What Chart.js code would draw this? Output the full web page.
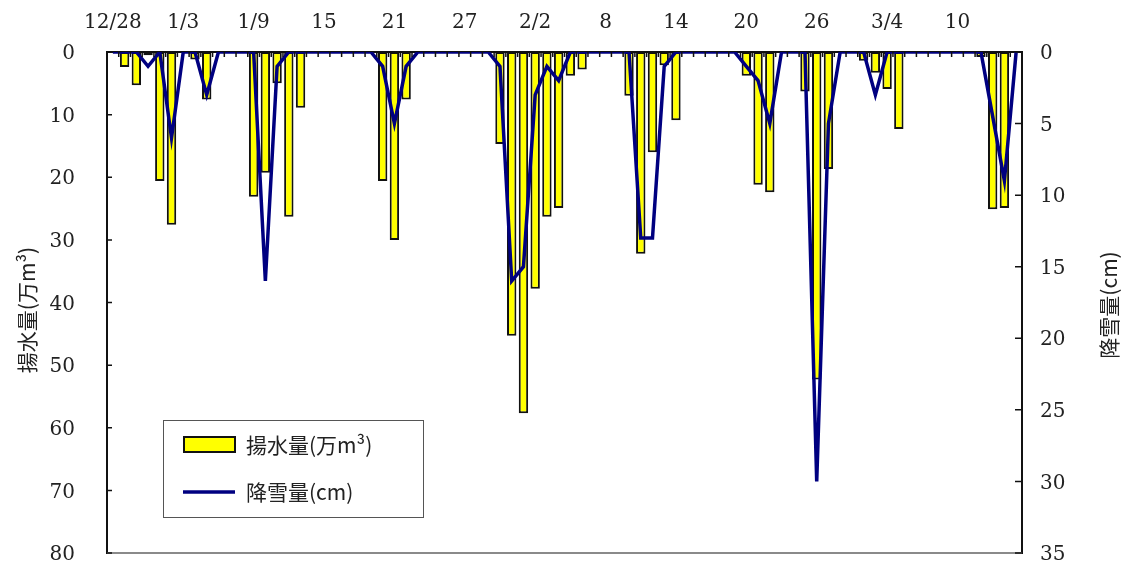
<!DOCTYPE html>
<html>
<head>
<meta charset="utf-8">
<script src="https://cdn.jsdelivr.net/npm/chart.js@4.4.1/dist/chart.umd.min.js"></script>
<style>
  html, body { margin: 0; padding: 0; background: #fff; }
  #wrap { width: 1121px; height: 564px; position: relative; }
</style>
</head>
<body>
<div id="wrap"><canvas id="myChart" width="1121" height="564"></canvas></div>
<script>
// days from 12/28 to 3/15
const days = [
  '12/28','12/29','12/30','12/31','1/1','1/2','1/3','1/4','1/5','1/6','1/7','1/8',
  '1/9','1/10','1/11','1/12','1/13','1/14','1/15','1/16','1/17','1/18','1/19','1/20',
  '1/21','1/22','1/23','1/24','1/25','1/26','1/27','1/28','1/29','1/30','1/31','2/1',
  '2/2','2/3','2/4','2/5','2/6','2/7','2/8','2/9','2/10','2/11','2/12','2/13',
  '2/14','2/15','2/16','2/17','2/18','2/19','2/20','2/21','2/22','2/23','2/24','2/25',
  '2/26','2/27','2/28','3/1','3/2','3/3','3/4','3/5','3/6','3/7','3/8','3/9',
  '3/10','3/11','3/12','3/13','3/14','3/15'
];
// every 6th day gets a label
const tickLabels = ['12/28','1/3','1/9','15','21','27','2/2','8','14','20','26','3/4','10'];

// 揚水量 (万m3)
const pumping = [
  0, 2.4, 5.3, 0.5, 20.6, 27.6, 0, 1.2, 7.6, 0, 0, 0,
  23.1, 19.3, 5.0, 26.3, 8.9, 0, 0, 0, 0, 0, 0, 20.6,
  30.0, 7.6, 0, 0, 0, 0, 0, 0, 0, 14.7, 45.3, 57.7,
  37.8, 26.3, 24.9, 3.8, 2.8, 0, 0, 0, 7.0, 32.2, 16.0, 2.1,
  10.9, 0, 0, 0, 0, 0, 3.8, 21.2, 22.4, 0, 0, 6.3,
  52.3, 18.7, 0, 0, 1.4, 3.3, 5.9, 12.3, 0, 0, 0, 0,
  0, 0, 0.8, 25.1, 24.9, 0
];
// 降雪量 (cm)
const snowfall = [
  0, 0, 0, 1, 0, 6, 0, 0, 3, 0, 0, 0,
  0, 16, 1, 0, 0, 0, 0, 0, 0, 0, 0, 1,
  5, 1, 0, 0, 0, 0, 0, 0, 0, 1, 16, 15,
  3, 1, 2, 0, 0, 0, 0, 0, 0, 13, 13, 1,
  0, 0, 0, 0, 0, 0, 1, 2, 5, 0, 0, 0,
  30, 5, 0, 0, 0, 3, 0, 0, 0, 0, 0, 0,
  0, 0, 0, 4.5, 9, 0
];

const numFont = { family: 'DejaVu Serif', size: 20 };
const jpFont = '21px "Noto Sans CJK JP"';
const textColor = '#222';

// inward tick marks, bottom frame line, axis titles and legend box
const decorations = {
  id: 'decorations',
  afterDraw(chart) {
    const ctx = chart.ctx;
    const a = chart.chartArea;
    const y = chart.scales.y, y2 = chart.scales.y2;
    ctx.save();

    // bottom line
    ctx.strokeStyle = '#8a8a8a';
    ctx.lineWidth = 2;
    ctx.beginPath();
    ctx.moveTo(a.left, a.bottom);
    ctx.lineTo(a.right, a.bottom);
    ctx.stroke();

    ctx.strokeStyle = '#111';
    ctx.lineWidth = 1.5;
    ctx.beginPath();
    for (let v = 0; v <= 80; v += 10) {
      const py = y.getPixelForValue(v);
      ctx.moveTo(a.left, py); ctx.lineTo(a.left + 5, py);
    }
    for (let v = 0; v <= 35; v += 5) {
      const py = y2.getPixelForValue(v);
      ctx.moveTo(a.right - 7, py); ctx.lineTo(a.right, py);
    }
    const w = (a.right - a.left) / days.length;
    for (let k = 1; k < days.length; k++) {
      const px = a.left + k * w;
      ctx.moveTo(px, a.top); ctx.lineTo(px, a.top + 5);
    }
    ctx.stroke();

    // axis titles
    ctx.fillStyle = textColor;
    ctx.font = jpFont;
    ctx.textAlign = 'center';
    ctx.textBaseline = 'middle';
    ctx.save();
    ctx.translate(27, 310);
    ctx.rotate(-Math.PI / 2);
    ctx.fillText('揚水量(万m³)', 0, 0);
    ctx.restore();
    ctx.save();
    ctx.translate(1109, 305);
    ctx.rotate(-Math.PI / 2);
    ctx.fillText('降雪量(cm)', 0, 0);
    ctx.restore();

    // legend
    const ds = chart.data.datasets;
    ctx.fillStyle = '#fff';
    ctx.fillRect(163, 420, 260, 97);
    ctx.strokeStyle = '#555';
    ctx.lineWidth = 1;
    ctx.strokeRect(163.5, 420.5, 260, 97);

    ctx.fillStyle = ds[0].backgroundColor;
    ctx.fillRect(184, 437, 51, 15);
    ctx.strokeStyle = ds[0].borderColor;
    ctx.lineWidth = 2;
    ctx.strokeRect(184, 437, 51, 15);

    ctx.strokeStyle = ds[1].borderColor;
    ctx.lineWidth = ds[1].borderWidth;
    ctx.beginPath();
    ctx.moveTo(183, 492); ctx.lineTo(235, 492);
    ctx.stroke();

    ctx.fillStyle = textColor;
    ctx.textAlign = 'left';
    ctx.fillText(ds[0].label, 246, 445);
    ctx.fillText(ds[1].label, 246, 492);
    ctx.restore();
  }
};

function fixY(width) {
  return function (s) {
    s.width = width;
    s.paddingTop = 0;
    s.paddingBottom = 0;
  };
}

const ctx = document.getElementById('myChart');
new Chart(ctx, {
  type: 'bar',
  data: {
    labels: days,
    datasets: [
      {
        type: 'bar',
        label: '揚水量(万m³)',
        data: pumping,
        yAxisID: 'y',
        backgroundColor: '#ffff00',
        borderColor: '#111',
        borderWidth: 2,
        borderSkipped: false,
        categoryPercentage: 1,
        barPercentage: 0.8,
        order: 2
      },
      {
        type: 'line',
        label: '降雪量(cm)',
        data: snowfall,
        yAxisID: 'y2',
        borderColor: '#000080',
        borderWidth: 3.5,
        pointRadius: 0,
        tension: 0,
        fill: false,
        order: 1
      }
    ]
  },
  plugins: [decorations],
  options: {
    responsive: false,
    animation: false,
    layout: { padding: { top: 0, bottom: 11, left: 0, right: 0 } },
    plugins: { legend: { display: false }, tooltip: { enabled: false } },
    scales: {
      x: {
        position: 'top',
        offset: true,
        grid: { display: false, drawTicks: false },
        border: { display: true, color: '#111', width: 2 },
        ticks: {
          autoSkip: false,
          maxRotation: 0,
          padding: 17,
          color: textColor,
          font: numFont,
          callback: (val, i) => (i % 6 === 0 ? tickLabels[i / 6] : '')
        },
        afterFit(s) { s.height = 52; s.paddingLeft = 0; s.paddingRight = 0; }
      },
      y: {
        position: 'left',
        reverse: true,
        min: 0,
        max: 80,
        grid: { display: false, drawTicks: false },
        border: { display: true, color: '#111', width: 2 },
        ticks: { stepSize: 10, padding: 32, labelOffset: 2, color: textColor, font: numFont },
        afterFit: fixY(107)
      },
      y2: {
        position: 'right',
        reverse: true,
        min: 0,
        max: 35,
        grid: { display: false, drawTicks: false },
        border: { display: true, color: '#111', width: 2 },
        ticks: { stepSize: 5, padding: 18, labelOffset: 2, color: textColor, font: numFont },
        afterFit: fixY(99)
      }
    }
  }
});
</script>
</body>
</html>
